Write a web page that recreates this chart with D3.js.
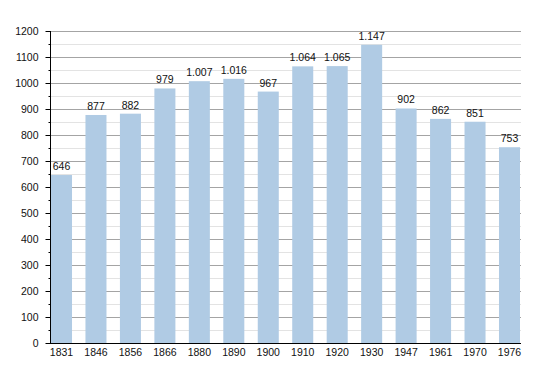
<!DOCTYPE html>
<html>
<head>
<meta charset="utf-8">
<script src="https://cdn.jsdelivr.net/npm/d3@7"></script>
<style>
  body { margin: 0; background: #fff; }
  text { font-family: "Liberation Sans", Arial, sans-serif; font-size: 10.5px; fill: #111; }
</style>
</head>
<body>
<script>
// population by census year
var years = ["1831", "1846", "1856", "1866", "1880", "1890", "1900", "1910", "1920", "1930", "1947", "1961", "1970", "1976"];
var population = [646, 877, 882, 979, 1007, 1016, 967, 1064, 1065, 1147, 902, 862, 851, 753];
var y_ticks = [0, 100, 200, 300, 400, 500, 600, 700, 800, 900, 1000, 1100, 1200];
var y_minor = [50, 150, 250, 350, 450, 550, 650, 750, 850, 950, 1050, 1150];

var width = 550;
var height = 373;

// plot area edges (window.top is taken, so own names)
var plot_left = 50, plot_right = 521, plot_top = 31, plot_bottom = 343;

var svg = d3.select("body").append("svg")
  .attr("width", width)
  .attr("height", height)

var x = d3.scaleBand()
  .domain(years)
  .range([plot_left + 1, 520])
  .paddingInner(0.39)
  .paddingOuter(0)

var y = d3.scaleLinear()
  .domain([0, 1200])
  .range([plot_bottom, plot_top])

// thousands with a dot
function fmt(v) {
  var s = String(v);
  if (s.length > 3) s = s.slice(0, s.length - 3) + "." + s.slice(s.length - 3);
  return s;
}

function py(d) { return Math.round(y(d)) + 0.5; }

// minor grid
svg.selectAll(".minor")
  .data(y_minor)
  .enter().append("line")
    .attr("class", "minor")
    .attr("x1", plot_left).attr("x2", plot_right)
    .attr("y1", py).attr("y2", py)
    .attr("stroke", "#e3e3e3")

// major grid
svg.selectAll(".major")
  .data(y_ticks.slice(1))
  .enter().append("line")
    .attr("class", "major")
    .attr("x1", plot_left).attr("x2", plot_right)
    .attr("y1", py).attr("y2", py)
    .attr("stroke", "#a4a4a4")

// bars
svg.selectAll(".bar")
  .data(population)
  .enter().append("rect")
    .attr("class", "bar")
    .attr("x", function(d, i) { return x(years[i]); })
    .attr("width", x.bandwidth())
    .attr("y", function(d) { return y(d); })
    .attr("height", function(d) { return plot_bottom - y(d); })
    .attr("fill", "#b0cbe4")

svg.selectAll(".val")
  .data(population)
  .enter().append("text")
    .attr("class", "val")
    .attr("x", function(d, i) { return x(years[i]) + x.bandwidth() / 2; })
    .attr("y", function(d) { return y(d) - 5; })
    .attr("text-anchor", "middle")
    .text(fmt)

// y axis
var gy = svg.append("g")
  .attr("transform", "translate(" + (plot_left + 0.5) + ",0)")
  .call(d3.axisLeft(y).tickValues(y_ticks).tickSize(5).tickPadding(7).tickFormat(d3.format("d")))
gy.select(".domain").remove()
gy.selectAll("text").style("font-size", "10.5px").style("font-family", "Liberation Sans, Arial, sans-serif").attr("fill", "#111")

svg.append("g")
  .attr("transform", "translate(" + (plot_left + 0.5) + ",0)")
  .call(d3.axisLeft(y).tickValues(y_minor).tickSize(2).tickFormat(""))
  .select(".domain").remove()

svg.append("line")
  .attr("x1", plot_left + 0.5).attr("x2", plot_left + 0.5)
  .attr("y1", plot_top).attr("y2", plot_bottom)
  .attr("stroke", "#000")

// x axis
var gx = svg.append("g")
  .attr("transform", "translate(0," + (plot_bottom + 0.5) + ")")
  .call(d3.axisBottom(x).tickSize(0).tickPadding(5))
gx.select(".domain").remove()
gx.selectAll("text").style("font-size", "10.5px").style("font-family", "Liberation Sans, Arial, sans-serif").attr("fill", "#111")

svg.append("line")
  .attr("x1", plot_left).attr("x2", plot_right)
  .attr("y1", plot_bottom + 0.5).attr("y2", plot_bottom + 0.5)
  .attr("stroke", "#000")
</script>
</body>
</html>
